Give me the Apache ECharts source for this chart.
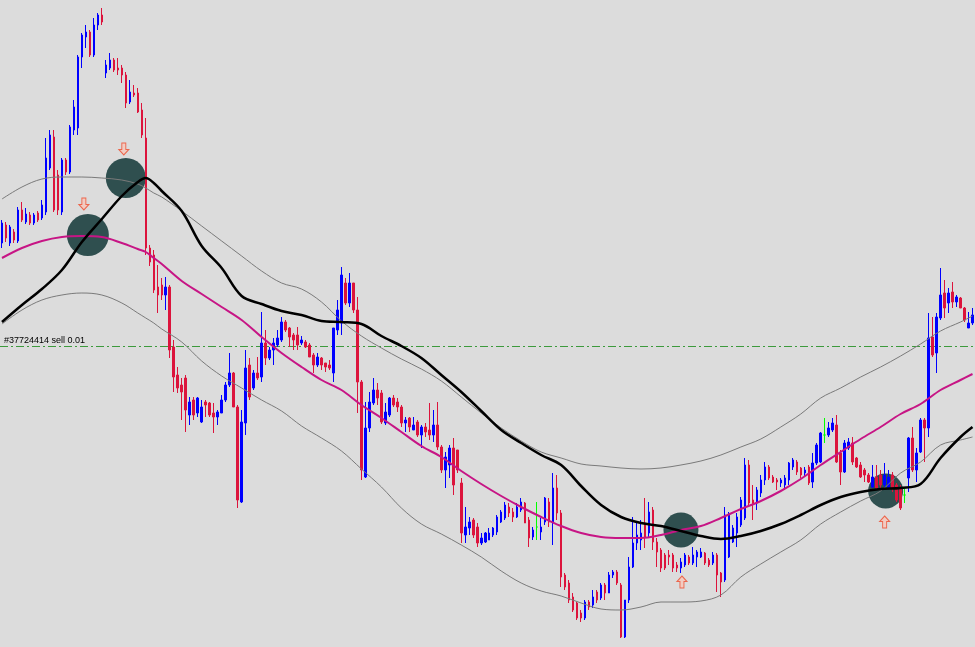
<!DOCTYPE html>
<html><head><meta charset="utf-8">
<script src="https://cdn.jsdelivr.net/npm/echarts@6/dist/echarts.min.js"></script>
<style>html,body{margin:0;padding:0;background:#dcdcdc;overflow:hidden}#c{width:975px;height:647px}</style>
</head><body><div id="c"></div>
<script>
// ---- DATA (price levels) ----
const opens = [
757,775,757,768,759,790,778,785,777,787,
782,788,832,863,825,788,840,828,870,872,
943,963,968,945,975,985,927,932,940,932,
932,925,898,907,907,890,862,752,745,713,
715,705,713,653,625,615,622,585,600,587,
578,598,597,587,583,587,600,615,627,593,
498,577,635,612,627,623,657,642,650,655,
660,678,672,665,665,657,658,655,645,635,
642,637,635,627,670,677,717,697,717,690,
618,523,572,597,610,607,577,585,602,598,
593,577,582,570,578,565,573,570,565,575,
553,530,535,552,550,517,465,472,480,473,
457,458,460,465,468,478,482,493,488,483,
490,497,480,463,473,468,478,498,477,512,
487,425,417,403,397,387,382,398,395,408,
402,415,407,425,428,415,363,400,433,457,
460,477,467,490,458,450,445,445,445,435,
432,435,443,437,443,443,447,440,437,445,
427,420,443,458,467,475,482,535,500,497,
507,520,533,523,520,517,515,520,533,538,
532,527,533,518,537,538,565,565,570,575,
547,528,552,557,542,535,530,525,513,523,
525,515,512,525,515,512,505,522,562,530,
548,580,572,663,647,682,707,697,708,698,
702,692,672,677];
const closes = [
777,762,773,760,790,780,786,777,785,780,
795,842,865,790,790,840,828,873,893,943,
965,968,945,975,985,978,935,940,930,930,
925,897,908,905,888,865,752,738,710,705,
705,713,650,623,612,608,590,598,585,602,
593,595,585,583,588,600,615,627,593,500,
578,632,603,627,622,657,642,650,657,662,
678,670,663,660,655,660,653,643,635,643,
635,633,632,672,690,725,697,717,690,618,
530,572,598,610,602,578,588,602,595,593,
577,580,573,575,565,573,568,565,575,553,
530,543,552,515,530,467,473,478,465,457,
462,467,467,472,483,488,495,487,483,493,
498,477,462,470,473,473,502,478,512,487,
423,413,400,390,382,382,398,393,403,400,
415,407,425,428,417,363,400,433,457,465,
467,463,488,458,448,432,432,443,432,432,
438,445,437,445,448,448,437,435,445,425,
418,485,485,472,483,500,535,497,497,510,
520,533,522,518,518,520,522,537,540,528,
525,530,517,537,555,567,565,572,577,538,
528,557,558,538,533,523,525,518,523,512,
515,525,523,512,500,492,505,562,530,547,
580,572,662,645,683,705,692,707,698,703,
692,680,677,685];
const lows = [
752,758,754,757,757,778,776,775,775,778,
780,785,830,788,785,785,825,826,865,865,
932,952,943,943,970,975,922,930,928,925,
917,892,896,903,887,862,745,734,707,687,
700,690,642,608,607,580,568,575,580,583,
577,583,583,567,575,587,598,613,593,492,
497,565,600,610,620,618,635,640,635,653,
658,668,653,650,650,655,652,643,627,633,
630,628,630,618,665,665,695,693,687,587,
520,522,568,595,595,576,575,583,593,588,
573,568,568,570,563,552,563,560,558,550,
527,512,522,505,527,457,457,465,462,453,
455,457,460,463,465,477,480,483,478,482,
488,477,453,460,460,460,475,473,455,480,
413,410,397,388,380,378,380,390,392,397,
400,400,407,422,415,362,362,397,432,450,
450,452,463,450,433,428,430,435,428,428,
427,433,435,435,433,442,435,433,435,408,
403,418,442,457,453,473,480,493,480,490,
503,515,520,517,510,513,510,515,530,525,
522,523,515,512,535,537,557,563,568,537,
515,527,550,535,532,522,518,517,512,510,
510,513,510,508,498,490,497,508,528,518,
547,538,563,643,627,680,682,687,692,693,
692,678,672,675];
const highs = [
780,778,775,771,793,798,792,788,787,789,
800,862,870,870,830,842,842,875,900,945,
967,975,970,982,987,992,940,947,942,942,
935,928,920,915,912,897,882,755,750,735,
722,723,715,660,633,622,625,603,603,603,
600,600,598,597,590,605,618,647,628,595,
590,650,642,630,643,688,670,653,662,670,
683,680,673,667,673,664,660,657,647,647,
643,637,640,672,700,733,722,727,717,703,
620,598,608,622,617,610,597,603,605,602,
595,583,583,583,580,575,577,597,590,598,
555,548,555,562,550,522,493,483,482,477,
467,468,472,473,485,490,498,497,492,497,
502,498,483,473,498,482,503,502,527,525,
490,427,420,407,398,390,400,400,410,410,
417,417,428,430,430,417,400,443,483,477,
480,502,498,493,462,452,447,450,447,438,
442,447,445,453,450,452,448,442,448,447,
428,493,488,475,487,503,542,540,515,513,
525,538,535,525,522,522,525,538,542,540,
533,533,535,547,557,568,582,578,582,585,
550,560,562,563,543,538,532,527,535,535,
530,537,530,528,517,515,512,563,573,552,
582,582,687,683,687,732,720,712,718,705,
703,693,688,692];

// indicator lines, read at these bar indices
const sampleIdx = [0,5,10,15,20,25,30,34,36,38,
  40,45,50,55,60,65,70,75,80,85,90,95,100,105,110,115,120,125,130,135,
  140,145,150,155,160,165,170,175,180,185,190,195,200,205,210,215,220,225,230,235,240,243];
const maSlow = [742,752,759,763,764,763,757,751,748,742,
  736,719,706,693,680,663,647,633,620,610,595,582,568,554,543,529,516,504,493,483,
  474,467,463,462,462,465,470,474,482,491,499,509,521,535,548,561,573,586,596,610,620,626];
const maFast = [678,695,711,730,758,781,804,818,822,817,
  809,789,754,732,704,696,689,685,679,678,676,664,654,642,625,608,589,570,557,545,
  535,514,495,483,477,474,469,464,461,464,469,476,485,495,503,508,511,512,516,542,563,573];
const bandUpper = [801,813,821,823,823,822,820,816,812,807,
  803,789,774,759,744,729,717,711,698,679,664,652,641,631,619,603,587,572,559,548,
  542,536,534,532,531,532,535,539,545,553,561,573,586,602,612,623,633,644,656,669,678,684];
const bandLower = [676,690,700,705,707,705,697,687,682,677,
  671,658,639,624,612,600,589,574,562,549,531,513,492,476,466,455,443,429,417,409,
  404,397,391,390,393,398,398,399,405,423,436,448,460,476,488,499,509,527,538,555,560,563];

// signal zones (bar index, price) and arrows
const zoneIdx = [21.5, 31, 170, 221.25];
const zonePrice = [765, 822, 470, 509];
const sellArrowIdx = [20.5, 30.5];
const sellArrowPrice = [796, 851];
const buyArrowIdx = [170.25, 221];
const buyArrowPrice = [418, 478];

const orderPrice = 654;
const orderLabel = '#37724414 sell 0.01';

// ---- BUILD ----
const N = opens.length;
const categories = opens.map((_, i) => String(i + 1));
const candles = opens.map((o, i) => [o, closes[i], lows[i], highs[i]]);
function sparse(vals) {
  const a = new Array(N).fill(null);
  sampleIdx.forEach((k, j) => { a[k] = vals[j]; });
  return a;
}
const zoneSizes = [42, 40, 35, 35];

const chart = echarts.init(document.getElementById('c'), null, {renderer: 'canvas'});
const lineBase = {type: 'line', connectNulls: true, smooth: 0.35, showSymbol: false, silent: true, z: 3};
chart.setOption({
  backgroundColor: '#dcdcdc',
  animation: false,
  grid: {left: -0.5, right: 0.5, top: 0, bottom: 0},
  xAxis: [
    {type: 'category', data: categories, show: false, boundaryGap: true},
    {type: 'value', min: -0.5, max: N - 0.5, show: false}
  ],
  yAxis: {type: 'value', min: 353, max: 1000, show: false},
  series: [
    {
      type: 'scatter', xAxisIndex: 1, z: 1, silent: true,
      data: zoneIdx.map((x, i) => [x, zonePrice[i]]),
      symbol: 'circle',
      symbolSize: (v, p) => zoneSizes[p.dataIndex],
      itemStyle: {color: '#2f4f4f', opacity: 1}
    },
    {
      type: 'candlestick', z: 2, barWidth: 2,
      data: candles,
      itemStyle: {
        color: '#0000ff', color0: '#dc143c',
        borderColor: '#0000ff', borderColor0: '#dc143c',
        borderColorDoji: '#00ff00', borderWidth: 1
      },
      markLine: {
        silent: true, symbol: 'none', z: 1,
        lineStyle: {color: '#3c9a3c', type: [8, 3, 2, 3], width: 1},
        label: {show: false},
        data: [{yAxis: orderPrice}]
      }
    },
    Object.assign({}, lineBase, {data: sparse(bandUpper), lineStyle: {color: '#7a7a7a', width: 1}}),
    Object.assign({}, lineBase, {data: sparse(bandLower), lineStyle: {color: '#7a7a7a', width: 1}}),
    Object.assign({}, lineBase, {data: sparse(maSlow), lineStyle: {color: '#c71585', width: 2}}),
    Object.assign({}, lineBase, {data: sparse(maFast), lineStyle: {color: '#000000', width: 2.5}}),
    {
      type: 'scatter', xAxisIndex: 1, z: 4, silent: true,
      data: sellArrowIdx.map((x, i) => [x, sellArrowPrice[i]]),
      symbol: 'path://M3,0H7V7H10L5,13L0,7H3Z', symbolSize: [10, 12],
      itemStyle: {color: '#f8c8bc', borderColor: '#ee4a2a', borderWidth: 1}
    },
    {
      type: 'scatter', xAxisIndex: 1, z: 4, silent: true,
      data: buyArrowIdx.map((x, i) => [x, buyArrowPrice[i]]),
      symbol: 'path://M5,0L10,6H7V13H3V6H0Z', symbolSize: [10, 12],
      itemStyle: {color: '#f8c8bc', borderColor: '#ee4a2a', borderWidth: 1}
    }
  ],
  graphic: [{
    type: 'text', left: 4, top: 336, z: 10, silent: true,
    style: {text: orderLabel, font: '9px "Liberation Sans", Arial, sans-serif', fill: '#000000'}
  }]
});
</script>
</body></html>
